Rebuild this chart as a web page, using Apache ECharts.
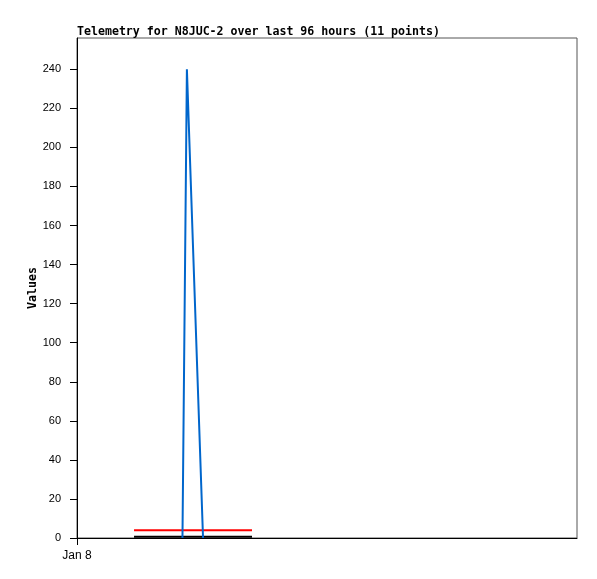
<!DOCTYPE html>
<html>
<head>
<meta charset="utf-8">
<script src="https://cdn.jsdelivr.net/npm/echarts@6/dist/echarts.min.js"></script>
<style>
  html, body { margin: 0; padding: 0; background: #fff; }
  #chart { width: 597px; height: 579px; }
</style>
</head>
<body>
<div id="chart"></div>
<script>
// hours since Jan 8 00:00
const blueHours = [20.25, 21.1, 24.2];
const blueValues = [0, 240, 0];
const redHours = [10.95, 33.6];
const redValues = [4, 4];
const blackHours = [10.95, 33.6];
const blackValues = [0.6, 0.6];
const yTicks = [0, 20, 40, 60, 80, 100, 120, 140, 160, 180, 200, 220, 240];
const xLabel = "Jan 8";

const pair = (xs, ys) => xs.map((x, i) => [x, ys[i]]);

const chart = echarts.init(document.getElementById("chart"));

const lineSeries = (data, color) => ({
  type: "line",
  data: data,
  showSymbol: false,
  animation: false,
  lineStyle: { width: 2, color: color },
});

chart.setOption({
  animation: false,
  title: {
    text: "Telemetry for N8JUC-2 over last 96 hours (11 points)",
    left: 72,
    top: 21,
    textStyle: {
      fontFamily: "DejaVu Sans Mono",
      fontWeight: "bold",
      fontSize: 11.6,
      color: "#000",
    },
  },
  grid: {
    left: 77,
    top: 38,
    right: 20,
    bottom: 41,
    show: true,
    borderColor: "#555",
    borderWidth: 1,
  },
  xAxis: {
    type: "value",
    min: 0,
    max: 96,
    interval: 96,
    axisLine: { lineStyle: { color: "#000", width: 1 } },
    axisTick: { show: true, length: 7, lineStyle: { color: "#000" } },
    splitLine: { show: false },
    axisLabel: {
      margin: 12,
      fontFamily: "Liberation Sans",
      fontSize: 12,
      color: "#000",
      showMaxLabel: false,
      formatter: (v) => (v === 0 ? xLabel : ""),
    },
  },
  yAxis: {
    type: "value",
    min: 0,
    max: 256,
    interval: 20,
    name: "Values",
    nameLocation: "middle",
    nameGap: 38,
    nameMoveOverlap: false,
    nameTextStyle: {
      fontFamily: "DejaVu Sans Mono",
      fontWeight: "bold",
      fontSize: 11.6,
      color: "#000",
    },
    axisLine: { show: true, lineStyle: { color: "#000", width: 1 } },
    axisTick: { show: true, length: 7, lineStyle: { color: "#000" } },
    splitLine: { show: false },
    axisLabel: {
      margin: 16,
      fontFamily: "Liberation Sans",
      fontSize: 11,
      color: "#000",
      showMaxLabel: false,
      formatter: (v) => (yTicks.includes(v) ? String(v) : ""),
    },
  },
  series: [
    lineSeries(pair(blackHours, blackValues), "#000000"),
    lineSeries(pair(redHours, redValues), "#ff0000"),
    lineSeries(pair(blueHours, blueValues), "#0066cc"),
  ],
});
</script>
</body>
</html>
